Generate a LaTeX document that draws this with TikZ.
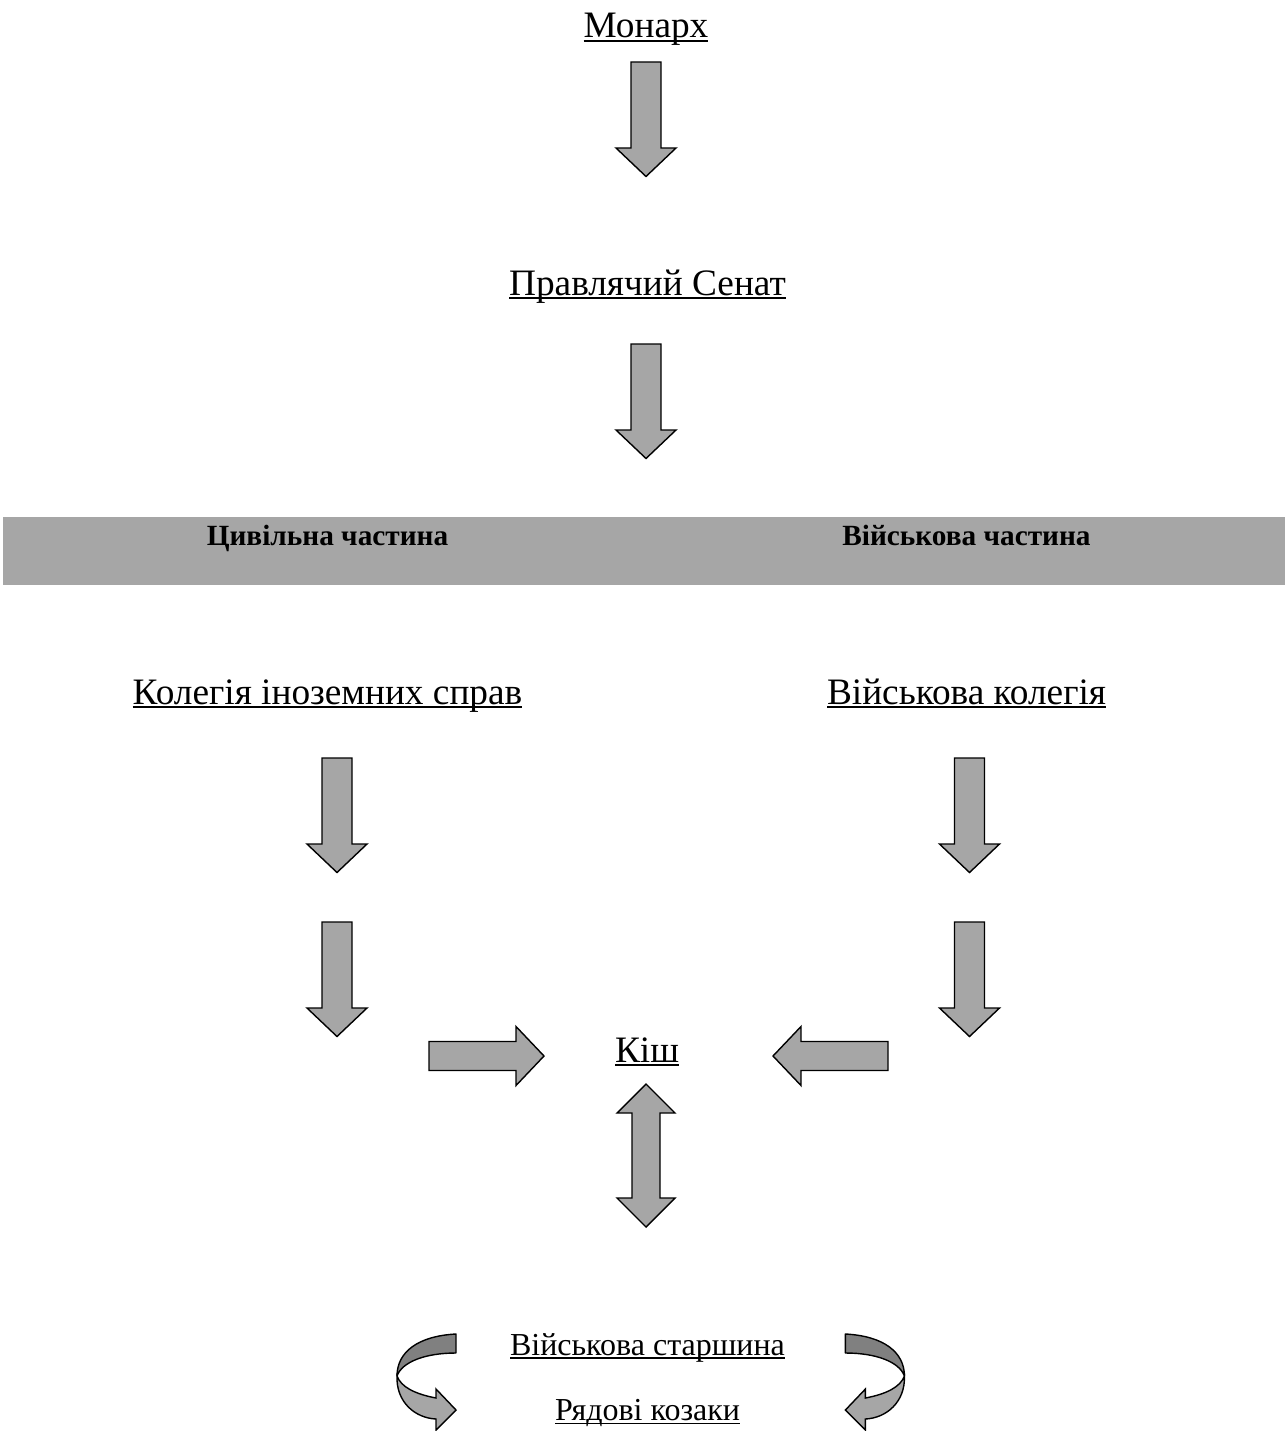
\documentclass[tikz,border=0pt]{standalone}
\usepackage{fontspec}
\setmainfont{Liberation Serif}
\newcommand\ulx[1]{\setbox0=\hbox{#1}\rlap{\rule[-0.12em]{\wd0}{0.055em}}\box0}
\definecolor{blkfill}{HTML}{A6A6A6}
\definecolor{blkdark}{HTML}{808080}
\tikzset{
  blk/.style={draw=black, line width=1.4pt, fill=blkfill, line join=miter},
  blkd/.style={draw=black, line width=1.4pt, fill=blkdark, line join=round},
  bigtxt/.style={anchor=base, inner sep=0pt, font=\fontsize{37.3}{40}\selectfont},
  smalltxt/.style={anchor=base, inner sep=0pt, font=\fontsize{32}{36}\selectfont},
  bandtxt/.style={anchor=base, inner sep=0pt, font=\fontsize{29.3}{32}\selectfont\bfseries},
  darr/.pic={\draw[blk] (-15,0) -- (15,0) -- (15,86) -- (30,86) -- (0,114.5) -- (-30,86) -- (-15,86) -- cycle;},
  rarr/.pic={\draw[blk] (0,-14.5) -- (87,-14.5) -- (87,-29.5) -- (115,0) -- (87,29.5) -- (87,14.5) -- (0,14.5) -- cycle;},
  udarr/.pic={\draw[blk] (0,0) -- (29,29) -- (14,29) -- (14,114) -- (29,114) -- (0,143) -- (-29,114) -- (-14,114) -- (-14,29) -- (-29,29) -- cycle;},
  uturn/.pic={
    \draw[blkd] (456,1334) .. controls (418,1336) and (397,1352) .. (397,1376)
       .. controls (402,1362) and (425,1353) .. (456,1353) -- cycle;
    \draw[blk] (397,1376) .. controls (396,1402) and (415,1418) .. (436,1419)
       -- (436,1430) -- (456,1410) -- (436,1389) -- (436,1398)
       .. controls (415,1394) and (401,1387) .. (397,1376) -- cycle;}
}
\begin{document}
\begin{tikzpicture}[x=1pt, y=-1pt]
\useasboundingbox (0,0) rectangle (1285,1431);
% band
\fill[blkfill] (3,517) rectangle (1285,585);
\node[bandtxt] (civ) at (327.5,545) {Цивільна частина};
\node[bandtxt] (mil) at (966.5,545) {Військова частина};
% texts
\node[bigtxt] (mon) at (646,37.5) {\ulx{Монарх}};
\node[bigtxt] (sen) at (647.5,295) {\ulx{Правлячий Сенат}};
\node[bigtxt] (kol) at (327.5,704) {\ulx{Колегія іноземних справ}};
\node[bigtxt] (vk) at (966.5,704) {\ulx{Військова колегія}};
\node[bigtxt] (kish) at (647,1062) {\ulx{Кіш}};
\node[smalltxt] (star) at (647.5,1355) {\ulx{Військова старшина}};
\node[smalltxt] (ryad) at (647.5,1420.5) {\ulx{Рядові козаки}};
% arrows
\pic (a1) at (646,62) {darr};
\pic (a2) at (646,344) {darr};
\pic (a3) at (337,758) {darr};
\pic (a4) at (337,922) {darr};
\pic (a5) at (969.5,758) {darr};
\pic (a6) at (969.5,922) {darr};
\pic (a7) at (429,1056) {rarr};
\pic[xscale=-1] (a8) at (888,1056) {rarr};
\pic (a9) at (646,1084) {udarr};
\pic (u1) at (0,0) {uturn};
\pic[xscale=-1] (u2) at (1301.4,0) {uturn};
\end{tikzpicture}
\end{document}
